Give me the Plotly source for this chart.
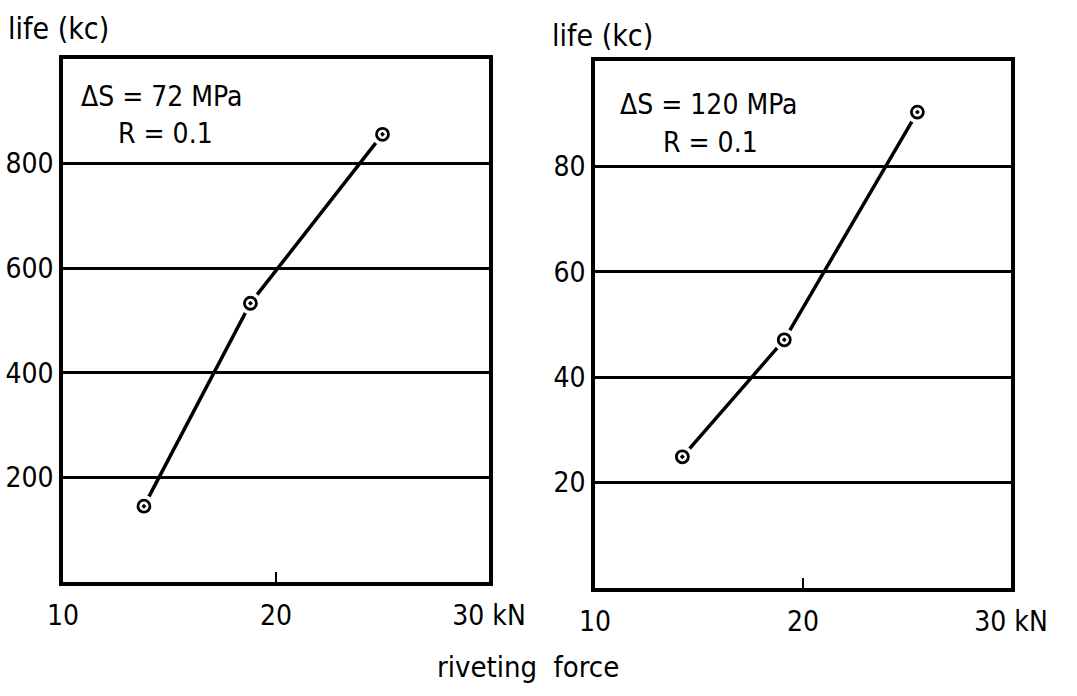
import plotly.graph_objects as go

W, H = 1077, 696

# ---- data ----
force_left = [13.8, 18.8, 25.0]
life_left = [145, 533, 856]
force_right = [14.2, 19.1, 25.5]
life_right = [24.9, 47.1, 90.3]

x_tickvals = [10, 20, 30]
x_ticktext = ["10", "20", "30 kN"]
yl_tickvals = [200, 400, 600, 800]
yl_ticktext = ["200", "400", "600", "800"]
yr_tickvals = [20, 40, 60, 80]
yr_ticktext = ["20", "40", "60", "80"]

FONT = "DejaVu Sans Condensed, Liberation Sans Narrow, DejaVu Sans, sans-serif"


def px(x):
    return x / W


def py(y):
    return 1 - y / H


fig = go.Figure()


def add_series(xs, ys, xa, ya):
    fig.add_trace(go.Scatter(x=xs, y=ys, xaxis=xa, yaxis=ya, mode="lines",
                             line=dict(color="black", width=3.5), showlegend=False,
                             hoverinfo="skip"))
    fig.add_trace(go.Scatter(x=xs, y=ys, xaxis=xa, yaxis=ya, mode="markers",
                             marker=dict(symbol="circle", size=22, color="white",
                                         line=dict(width=0)),
                             showlegend=False, hoverinfo="skip"))
    fig.add_trace(go.Scatter(x=xs, y=ys, xaxis=xa, yaxis=ya, mode="markers",
                             marker=dict(symbol="circle-open-dot", size=12, color="black",
                                         line=dict(width=2.8, color="black")),
                             showlegend=False))


add_series(force_left, life_left, "x", "y")
add_series(force_right, life_right, "x2", "y2")

xcommon = dict(range=[10, 30], tickvals=x_tickvals, ticktext=x_ticktext,
               ticks="inside", ticklen=10, tickwidth=1.5, tickcolor="black",
               showline=True, linecolor="black", linewidth=3.5, mirror=True,
               showgrid=False, zeroline=False, automargin=False,
               ticklabelstandoff=6,
               tickfont=dict(family=FONT, size=28, color="black"))

ycommon = dict(ticks="", showline=True, linecolor="black", linewidth=3.5, mirror=True,
               showgrid=True, gridcolor="black", gridwidth=2.5, zeroline=False,
               automargin=False, ticklabelstandoff=0,
               tickfont=dict(family=FONT, size=28, color="black"))

fig.update_layout(
    width=W, height=H,
    margin=dict(l=0, r=0, t=0, b=0),
    paper_bgcolor="white", plot_bgcolor="white",
    xaxis=dict(domain=[px(63), px(489)], anchor="y", **xcommon),
    yaxis=dict(domain=[py(582), py(59)], anchor="x", range=[0, 1000],
               tickvals=yl_tickvals, ticktext=yl_ticktext, **ycommon),
    xaxis2=dict(domain=[px(595), px(1011)], anchor="y2", **xcommon),
    yaxis2=dict(domain=[py(588), py(61)], anchor="x2", range=[0, 100],
                tickvals=yr_tickvals, ticktext=yr_ticktext, **ycommon),
)

annots = [
    ("life (kc)", 6, 28, "left", 30),
    ("life (kc)", 550, 36, "left", 30),
    ("ΔS = 72 MPa", 79, 96, "left", 28),
    ("R = 0.1", 116, 134, "left", 28),
    ("ΔS = 120 MPa", 618, 104, "left", 28),
    ("R = 0.1", 661, 142, "left", 28),
    ("riveting  force", 528, 667, "center", 29),
]
for text, x, y, anchor, size in annots:
    fig.add_annotation(text=text, x=px(x), y=py(y), xref="paper", yref="paper",
                       xanchor=anchor, yanchor="middle", showarrow=False,
                       font=dict(family=FONT, size=size, color="black"))

fig.write_html("out.html")
